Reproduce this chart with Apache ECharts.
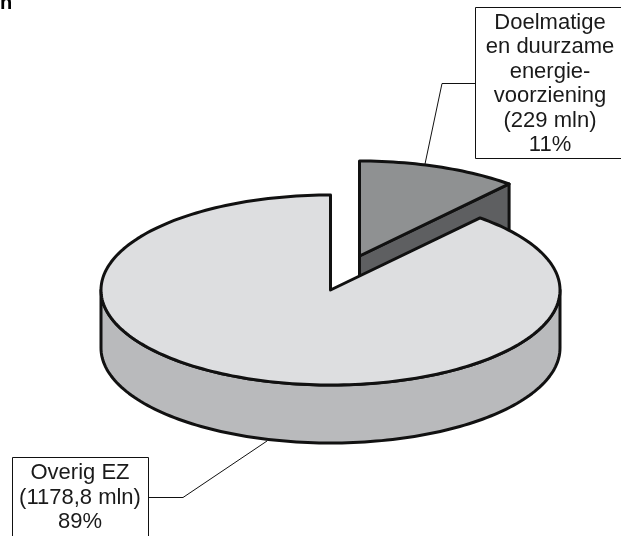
<!DOCTYPE html>
<html>
<head>
<meta charset="utf-8">
<style>html,body{margin:0;padding:0;background:#fff}#main{width:621px;height:536px}</style>
<script src="https://cdn.jsdelivr.net/npm/echarts@6/dist/echarts.min.js"></script>
</head>
<body>
<div id="main"></div>
<script>
// data
var categories = ['Doelmatige\nen duurzame\nenergie-\nvoorziening', 'Overig EZ'];
var amountLabels = ['(229 mln)', '(1178,8 mln)'];
var percentLabels = ['11%', '89%'];
var shares = [11.3, 88.7];

// pie geometry (tilted disc)
var cx = 330.5, cy = 290, rx = 229.5, ry = 95, depth = 58;
var explodeX = 29, explodeY = -34;
var topColors = ['#8f9192', '#dddee0'];
var sideColors = ['#5e5f61', '#b9babc'];
var INK = '#111';

var total = shares[0] + shares[1];

// angle 0 = top of the ellipse, clockwise
function pt(c, a, dy) {
    return [c[0] + rx * Math.sin(a), c[1] - ry * Math.cos(a) + (dy || 0)];
}

function arcPoints(c, a0, a1, dy) {
    var n = Math.max(8, Math.ceil(Math.abs(a1 - a0) * 40));
    var pts = [];
    for (var i = 0; i <= n; i++) {
        pts.push(pt(c, a0 + (a1 - a0) * i / n, dy));
    }
    return pts;
}

function poly(points, fill) {
    return {
        type: 'polygon',
        shape: {points: points},
        style: {fill: fill, stroke: INK, lineWidth: 3, lineJoin: 'round'}
    };
}

function renderSlice(params, api) {
    var i = params.dataIndex;
    var sweep = api.value(0) / total * Math.PI * 2;
    var c = i === 0 ? [cx + explodeX, cy + explodeY] : [cx, cy];
    var a0 = i === 0 ? 0 : shares[0] / total * Math.PI * 2;
    var a1 = a0 + sweep;
    var children = [];
    if (i === 0) {
        // cut face seen from the front
        var end = pt(c, a1);
        children.push(poly([c, end, [end[0], end[1] + depth], [c[0], c[1] + depth]], sideColors[0]));
    } else {
        // visible outer wall: from the right extreme round the front to the left extreme
        var front = arcPoints(c, Math.PI / 2, Math.PI * 1.5, depth);
        var back = arcPoints(c, Math.PI * 1.5, Math.PI / 2);
        children.push(poly(front.concat(back), sideColors[1]));
    }
    children.push(poly([c].concat(arcPoints(c, a0, a1)), topColors[i]));
    return {type: 'group', children: children};
}

function calloutLines(i) {
    return categories[i] + '\n' + amountLabels[i] + '\n' + percentLabels[i];
}

var textStyle = {fontFamily: '"Liberation Sans", Arial, sans-serif', fontSize: 22, lineHeight: 24.5, fill: '#1a1a1a', align: 'center', verticalAlign: 'middle'};

// boxes run off the edge of the picture, as in the reference
function callout(box, leader, textPos, i) {
    return [
        {type: 'polyline', shape: {points: leader}, style: {fill: null, stroke: INK, lineWidth: 1}, silent: true},
        {type: 'rect', shape: {x: box[0], y: box[1], width: box[2], height: box[3]}, style: {fill: '#fff', stroke: INK, lineWidth: 1}, silent: true},
        {type: 'text', x: textPos[0], y: textPos[1], style: Object.assign({text: calloutLines(i)}, textStyle), silent: true}
    ];
}

var chart = echarts.init(document.getElementById('main'), null, {renderer: 'canvas'});
chart.setOption({
    animation: false,
    backgroundColor: '#fff',
    series: [{
        type: 'custom',
        coordinateSystem: 'none',
        renderItem: renderSlice,
        data: shares.map(function (v, i) { return {value: [v], name: categories[i]}; }),
        silent: true,
        z: 2
    }],
    graphic: {
        elements: callout([475.5, 7.5, 150, 151], [[475, 83.5], [442, 83.5], [425, 164]], [550, 84], 0)
            .concat(callout([12.5, 457.5, 136, 90], [[148, 497.5], [183, 497.5], [267, 441]], [80, 497.5], 1))
            .concat([{type: 'text', x: 0, y: -7, style: {text: 'n', font: 'bold 20px "Liberation Sans", Arial, sans-serif', fill: '#000'}, silent: true}])
    }
});
</script>
</body>
</html>
